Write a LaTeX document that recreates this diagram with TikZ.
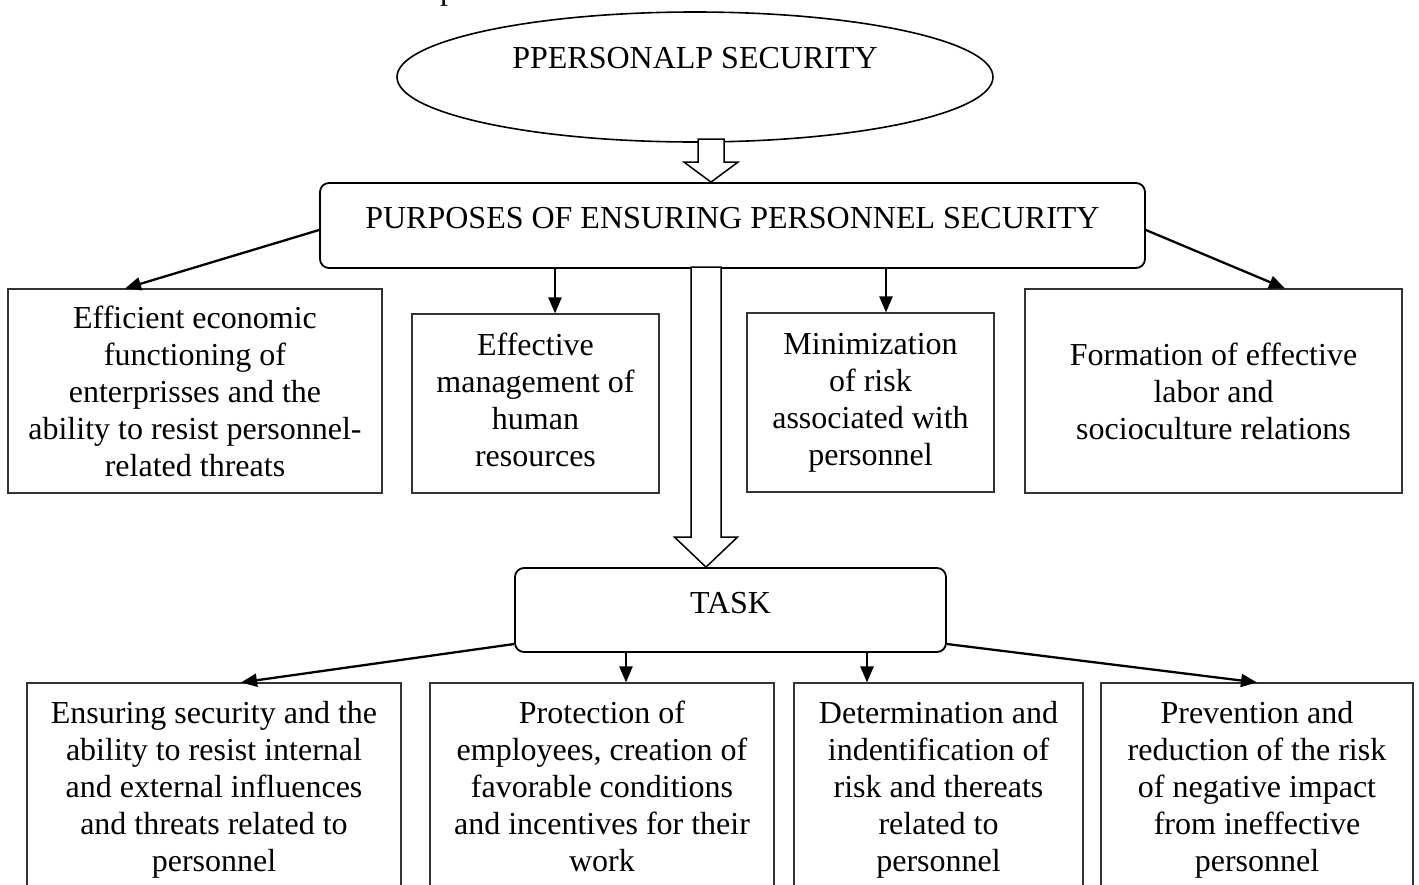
\documentclass[tikz,border=0pt]{standalone}
\usepackage{fontspec}
\setmainfont{Liberation Serif}
\usetikzlibrary{arrows.meta,shapes.geometric,calc}
\begin{document}
\begin{tikzpicture}[x=1pt,y=-1pt,
  font=\fontsize{32}{37}\selectfont,
  box/.style={draw=black!80,line width=1.1pt,align=center,inner sep=0pt},
  lowbox/.style={box,text depth=7pt},
  rbox/.style={draw=black,line width=1.8pt,rounded corners=9pt,inner sep=0pt,
    text height=22pt,text depth=16pt},
  arr/.style={line width=2.3pt,-{Triangle[length=16pt,width=13pt]}},
  hollow/.style={draw=black,line width=1.5pt,fill=white,line join=miter}]
\useasboundingbox (0,0) rectangle (1419,884);

% fragment of text cut at the top edge
\node[anchor=base west,inner sep=0pt] (frag) at (440,-1) {p};

% top ellipse
\node[ellipse,draw,line width=1.6pt,minimum width=596pt,minimum height=130pt,
  inner sep=0pt,text height=22pt,text depth=40pt] (ps) at (695,77) {PPERSONALP SECURITY};

% purposes
\node[rbox,minimum width=825pt,minimum height=85pt] (purp) at (732.5,225.5)
  {PURPOSES OF ENSURING PERSONNEL SECURITY};

% purpose boxes
\node[box,minimum width=374pt,minimum height=204pt] (b1) at (195,391)
  {Efficient economic\\functioning of\\enterprisses and the\\ability to resist personnel-\\related threats};
\node[lowbox,minimum width=247pt,minimum height=179pt] (b2) at (535.5,403.5)
  {Effective\\management of\\human\\resources};
\node[box,minimum width=247pt,minimum height=179pt] (b3) at (870.5,402.5)
  {Minimization\\of risk\\associated with\\personnel};
\node[box,minimum width=377pt,minimum height=204pt] (b4) at (1213.5,391)
  {Formation of effective\\labor and\\socioculture relations};

% task
\node[rbox,minimum width=431pt,minimum height=84pt] (task) at (730.5,610) {TASK};

% task boxes (cut by the lower edge)
\node[lowbox,minimum width=374pt,minimum height=214pt] (c1) at (214,790)
  {Ensuring security and the\\ability to resist internal\\and external influences\\and threats related to\\personnel};
\node[lowbox,minimum width=344pt,minimum height=214pt] (c2) at (602,790)
  {Protection of\\employees, creation of\\favorable conditions\\and incentives for their\\work};
\node[lowbox,minimum width=289pt,minimum height=214pt] (c3) at (938.5,790)
  {Determination and\\indentification of\\risk and thereats\\related to\\personnel};
\node[lowbox,minimum width=312pt,minimum height=214pt] (c4) at (1257,790)
  {Prevention and\\reduction of the risk\\of negative impact\\from ineffective\\personnel};

% hollow block arrows
\coordinate (t1) at (711,0 |- purp.north);
\draw[hollow] (t1) -- ++(-27,-20) -- ++(14,0) -- ++(0,-23) -- ++(26,0)
  -- ++(0,23) -- ++(14,0) -- cycle;
\coordinate (t2) at (706,0 |- task.north);
\draw[hollow] (t2) -- ++(-31.5,-30) -- ++(16.5,0) -- ++(0,-270) -- ++(30,0)
  -- ++(0,270) -- ++(16.5,0) -- cycle;

% connectors from purposes
\draw[arr] ([yshift=-4.5pt]purp.west) -- ([xshift=-70pt]b1.north);
\draw[arr] ([xshift=19.5pt]b2.north |- purp.south) -- ([xshift=19.5pt]b2.north);
\draw[arr] ([xshift=15.5pt]b3.north |- purp.south) -- ([xshift=15.5pt]b3.north);
\draw[arr] ([yshift=-4.5pt]purp.east) -- ([xshift=71.5pt]b4.north);

% connectors from task
\draw[arr] ([yshift=-34pt]task.west) -- ([xshift=27pt]c1.north);
\draw[arr] ([xshift=24pt]c2.north |- task.south) -- ([xshift=24pt]c2.north);
\draw[arr] ([xshift=-71.5pt]c3.north |- task.south) -- ([xshift=-71.5pt]c3.north);
\draw[arr] ([yshift=-34pt]task.east) -- (c4.north);
\end{tikzpicture}
\end{document}
